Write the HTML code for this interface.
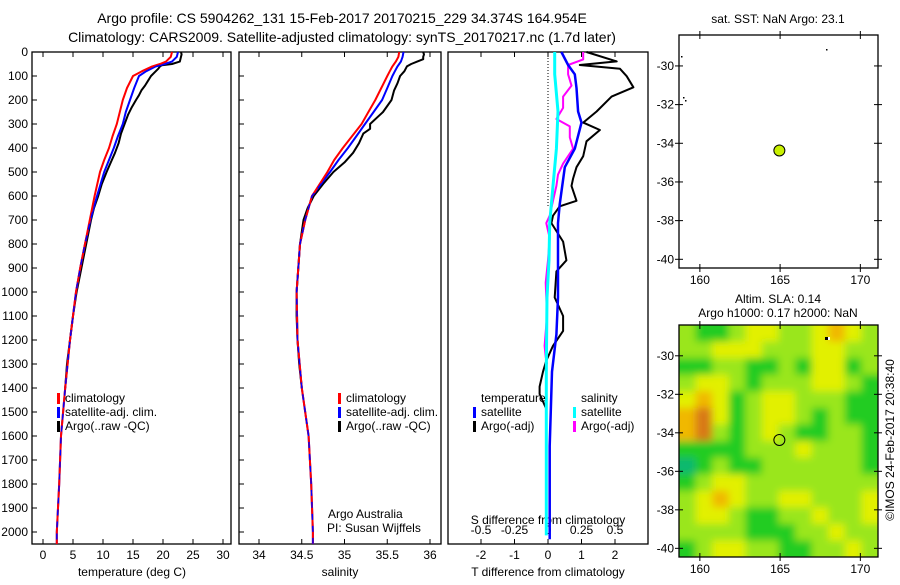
<!DOCTYPE html>
<html><head><meta charset="utf-8"><style>
body{margin:0;background:#fff;}
svg{font-family:"Liberation Sans",sans-serif;}
</style></head><body>
<svg id="fig" width="900" height="580" viewBox="0 0 900 580" xmlns="http://www.w3.org/2000/svg">
<rect width="900" height="580" fill="#fff"/>
<text x="342" y="23" font-size="14" text-anchor="middle">Argo profile: CS 5904262_131 15-Feb-2017 20170215_229 34.374S 164.954E</text>
<text x="342" y="42" font-size="14" text-anchor="middle">Climatology: CARS2009. Satellite-adjusted climatology: synTS_20170217.nc (1.7d later)</text>
<g id="g"></g>
</svg>
<script>
// ---- data ----
const depthTicks=[0,100,200,300,400,500,600,700,800,900,1000,1100,1200,1300,1400,1500,1600,1700,1800,1900,2000];
const tTicks=[0,5,10,15,20,25,30];
const sTicks=[34,34.5,35,35.5,36];
const dTTicks=[-2,-1,0,1,2];
const dSTicks=[-0.5,-0.25,0,0.25,0.5];
const dSTickLabels=['-0.5','-0.25','0','0.25','0.5'];
const latTicks=[-30,-32,-34,-36,-38,-40];
const lonTicks=[160,165,170];

const climDepth=[0,20,40,50,60,80,100,150,200,250,300,350,400,450,500,600,700,800,900,1000,1200,1400,1600,1800,2000,2050];
const tClim=[21.5,21.3,20.5,19.5,18.2,16.5,15.0,14.0,13.3,12.8,12.3,11.6,11.0,10.2,9.5,8.6,7.8,7.0,6.2,5.5,4.5,3.7,3.0,2.7,2.3,2.3];
const tSat=[22.5,22.3,21.5,20.3,18.8,17.2,16.0,15.2,14.5,13.8,13.3,12.5,11.8,11.0,10.2,9.0,7.9,7.0,6.2,5.5,4.5,3.7,3.0,2.7,2.3,2.3];
const sClim=[35.64,35.63,35.6,35.58,35.56,35.53,35.5,35.43,35.36,35.28,35.2,35.09,34.98,34.88,34.8,34.62,34.54,34.48,34.46,34.44,34.45,34.5,34.58,34.61,34.63,34.63];
const sSat=[35.69,35.68,35.66,35.64,35.62,35.59,35.56,35.5,35.44,35.34,35.24,35.14,35.04,34.93,34.83,34.62,34.54,34.48,34.46,34.44,34.45,34.5,34.58,34.61,34.63,34.63];

const argoTDepth=[0,10,20,30,40,50,55,60,70,80,100,120,140,160,180,200,230,260,300,340,380,420,460,500,550,600,650,700,800,900,1000,1100,1200,1300,1400];
const argoT=[23.0,23.1,23.0,22.9,22.8,21.5,19.8,19.5,19.2,18.8,18.0,17.5,17.0,16.4,16.0,15.5,14.8,14.2,13.6,13.0,12.6,12.0,11.3,10.6,9.8,9.2,8.5,8.0,7.2,6.4,5.6,5.0,4.5,4.0,3.7];
const argoSDepth=[0,10,20,30,40,50,60,80,100,130,160,200,250,300,320,340,380,420,460,500,550,600,650,700,800,900,1000,1100,1200,1300,1400];
const argoS=[35.92,35.93,35.92,35.92,35.85,35.78,35.73,35.7,35.65,35.62,35.58,35.55,35.45,35.3,35.3,35.22,35.17,35.1,35.0,34.87,34.75,34.64,34.57,34.52,34.48,34.46,34.44,34.44,34.45,34.47,34.5];

const satDTDepth=[0,54,93,150,248,294,403,480,635,713,1023,1177,1332,1642,2030];
const satDT=[0.4,0.6,0.8,0.85,0.9,1.0,0.8,0.5,0.35,0.3,0.3,0.25,0.12,0.05,0.05];
const argoDTDepth=[0,39,54,70,101,147,186,248,294,325,372,434,480,527,558,620,643,682,713,790,868,914,1023,1100,1162,1224,1286,1332,1394,1425,1487];
const argoDT=[1.15,2.05,0.95,2.15,2.35,2.55,1.9,1.45,1.05,1.55,1.15,1.05,0.85,0.75,0.7,0.85,0.35,0.15,0.1,0.45,0.55,0.25,0.2,0.45,0.45,0.15,-0.05,-0.15,-0.25,-0.25,-0.05];
const satDSDepth=[0,93,248,403,558,713,868,1023,1332,1642,2014];
const satDS=[0.05,0.05,0.075,0.0625,0.0375,0.0125,0.0075,-0.0075,-0.0125,-0.0125,-0.0125];
const argoDSDepth=[0,31,54,93,140,186,233,279,310,356,403,465,511,558,620,682,713,775,868,961,1100,1224,1270,1301];
const argoDS=[0.2625,0.2625,0.15,0.15,0.175,0.1125,0.1125,0.0625,0.1625,0.1625,0.1875,0.1125,0.075,0.0625,0.0375,0.0125,-0.0125,0.0125,0,-0.0175,-0.0075,-0.025,-0.0175,-0.0075];

const slaGrid=[
[2,1,1,2,3,3,2,2,3,4,3,2],
[2,2,3,3,3,2,2,2,3,3,2,2],
[1,1,2,2,1,1,2,1,3,3,1,2],
[2,3,3,2,1,2,2,2,3,3,2,1],
[3,4,3,1,2,3,3,2,2,2,1,1],
[4,5,3,1,2,3,3,2,1,2,1,1],
[4,5,2,1,2,3,2,1,1,2,2,1],
[1,1,1,1,2,2,2,3,2,2,2,1],
[0,1,2,1,1,2,2,2,2,2,2,1],
[1,2,3,3,2,2,2,2,2,2,2,2],
[2,3,4,3,2,2,3,3,2,2,2,3],
[2,3,3,2,1,1,2,2,3,2,2,3],
[2,2,2,2,1,1,1,2,2,3,2,2],
[1,2,3,3,2,2,1,1,2,2,3,2]];
const argoLon=164.954, argoLat=-34.374;

// ---- helpers ----
const NS='http://www.w3.org/2000/svg';
const G=document.getElementById('g');
function el(tag,attrs,parent){const e=document.createElementNS(NS,tag);for(const k in attrs)e.setAttribute(k,attrs[k]);(parent||G).appendChild(e);return e;}
function txt(x,y,s,attrs,parent){const e=el('text',Object.assign({x:x,y:y,'font-size':12},attrs||{}),parent);e.textContent=s;return e;}
const TOP=52,BOT=544;
const yD=d=>TOP+d*0.24;
const xT=v=>43+v*6;
const xS=v=>259+(v-34)*85.5;
const xDT=v=>548+v*33.5;
const xDS=v=>548+v*134;
function line(depths,vals,xf,color,w,name,dash){
  const pts=depths.map((d,i)=>xf(vals[i]).toFixed(1)+','+yD(d).toFixed(1)).join(' ');
  const p=el('polyline',{points:pts,fill:'none',stroke:color,'stroke-width':w,'stroke-linejoin':'round'});
  if(dash)p.setAttribute('stroke-dasharray',dash);
  
  
  return p;
}
function box(x0,x1,name){
  const r=el('rect',{x:x0,y:TOP,width:x1-x0,height:BOT-TOP,fill:'none',stroke:'#000','stroke-width':1.3});
  
  
}
function depthTickMarks(x0,x1,labels){
  depthTicks.forEach(d=>{
    el('line',{x1:x0,x2:x0+5,y1:yD(d),y2:yD(d),stroke:'#000'});
    if(labels){const t=txt(x0-4,yD(d)+4,String(d),{'text-anchor':'end'});
      
      }
  });
}
function xTicks(vals,xf,labs,x0,x1){
  vals.forEach((v,i)=>{
    const x=xf(v);
    el('line',{x1:x,x2:x,y1:BOT,y2:BOT-5,stroke:'#000'});
    el('line',{x1:x,x2:x,y1:TOP,y2:TOP+5,stroke:'#000'});
    const t=txt(x,BOT+15,labs?labs[i]:String(v),{'text-anchor':'middle'});
    
    
  });
}
function legend(x,y,items,name){
  const g=el('g',{});
  
  
  items.forEach((it,i)=>{
    const yy=y+i*14;
    if(it[1]) el('rect',{x:x,y:yy-9,width:3,height:11,fill:it[1]},g);
    txt(x+8,yy,it[0],{},g);
  });
}

// ---- panel 1: temperature ----
box(32,231,'temperature-panel');
depthTickMarks(32,231,true);
xTicks(tTicks,xT,null);
line(argoTDepth,argoT,xT,'#000',2,'argo-temperature-line');
line(climDepth,tSat,xT,'#0000ff',2,'satellite-temperature-line');
line(climDepth,tClim,xT,'#ff0000',2,'climatology-temperature-line');
line(climDepth,tSat,xT,'#0000ff',1.4,'satellite-temperature-line-overlay','6,6');
legend(57,402,[['climatology','#ff0000'],['satellite-adj. clim.','#0000ff'],['Argo(..raw -QC)','#000']],'temperature-legend');
txt(132,576,'temperature (deg C)',{'text-anchor':'middle'});

// ---- panel 2: salinity ----
box(239,441,'salinity-panel');
depthTickMarks(239,441,false);
xTicks(sTicks,xS,null);
line(argoSDepth,argoS,xS,'#000',2,'argo-salinity-line');
line(climDepth,sSat,xS,'#0000ff',2,'satellite-salinity-line');
line(climDepth,sClim,xS,'#ff0000',2,'climatology-salinity-line');
line(climDepth,sSat,xS,'#0000ff',1.4,'satellite-salinity-line-overlay','6,6');
legend(338,402,[['climatology','#ff0000'],['satellite-adj. clim.','#0000ff'],['Argo(..raw -QC)','#000']],'salinity-legend');
txt(328,518,'Argo Australia',{});
txt(327,532,'PI: Susan Wijffels',{});
txt(340,576,'salinity',{'text-anchor':'middle'});

// ---- panel 3: differences ----
box(448,648,'difference-panel');
el('line',{x1:xDT(0),x2:xDT(0),y1:TOP,y2:yD(650),stroke:'#000','stroke-dasharray':'1,2'});
dTTicks.forEach(v=>{const x=xDT(v);el('line',{x1:x,x2:x,y1:BOT,y2:BOT-5,stroke:'#000'});el('line',{x1:x,x2:x,y1:TOP,y2:TOP+5,stroke:'#000'});
  const t=txt(x,BOT+15,String(v),{'text-anchor':'middle'});});
dSTicks.forEach((v,i)=>{const t=txt(xDS(v),534,dSTickLabels[i],{'text-anchor':'middle'});});
txt(548,524,'S difference from climatology',{'text-anchor':'middle'});
txt(548,576,'T difference from climatology',{'text-anchor':'middle'});
line(argoDTDepth,argoDT,xDT,'#000',2,'argo-t-diff-line');
line(argoDSDepth,argoDS,xDS,'#ff00ff',2,'argo-s-diff-line');
line(satDTDepth,satDT,xDT,'#0000ff',2.5,'satellite-t-diff-line');
line(satDSDepth,satDS,xDS,'#00ffff',3,'satellite-s-diff-line');
legend(473,402,[['temperature',null],['satellite','#0000ff'],['Argo(-adj)','#000']],'t-diff-legend');
legend(573,402,[['salinity',null],['satellite','#00ffff'],['Argo(-adj)','#ff00ff']],'s-diff-legend');

// ---- maps ----
const MX0=679,MX1=878,LON0=158.7,LON1=171.1,LAT0=-28.4,LAT1=-40.45;
const xLon=v=>MX0+(v-LON0)/(LON1-LON0)*(MX1-MX0);
function mapFrame(top,bot,name){
  const yLat=v=>top+(v-LAT0)/(LAT1-LAT0)*(bot-top);
  const r=el('rect',{x:MX0,y:top,width:MX1-MX0,height:bot-top,fill:'none',stroke:'#000','stroke-width':1.3});
  
  
  latTicks.forEach(v=>{const y=yLat(v);el('line',{x1:MX0-4,x2:MX0+4,y1:y,y2:y,stroke:'#000'});el('line',{x1:MX1-4,x2:MX1+4,y1:y,y2:y,stroke:'#000'});
    const t=txt(MX0-5,y+4,String(v),{'text-anchor':'end'});});
  lonTicks.forEach(v=>{const x=xLon(v);el('line',{x1:x,x2:x,y1:top-4,y2:top+4,stroke:'#000'});el('line',{x1:x,x2:x,y1:bot-4,y2:bot+4,stroke:'#000'});
    const t=txt(x,bot+16,String(v),{'text-anchor':'middle'});});
  return yLat;
}
// SST map
const yLat1=mapFrame(35,268,'sst-map');
txt(778,23,'sat. SST: NaN Argo: 23.1',{'text-anchor':'middle'});
[[681,56],[683,97],[685,100],[826,49]].forEach(p=>el('rect',{x:p[0],y:p[1],width:1.5,height:1.5,fill:'#000'}));
const dot=el('circle',{cx:xLon(argoLon),cy:yLat1(argoLat),r:5.5,fill:'#c8f000',stroke:'#000','stroke-width':1});


// SLA map
const MT=325,MB=557;
const defs=el('defs',{});
const cp=el('clipPath',{id:'mclip'},defs);el('rect',{x:MX0,y:MT,width:MX1-MX0,height:MB-MT},cp);
const f=el('filter',{id:'blur',x:'-10%',y:'-10%',width:'120%',height:'120%'},defs);el('feGaussianBlur',{stdDeviation:4},f);
const cmap=['#10b870','#20cc20','#9ae61a','#e2f000','#f0b800','#d87818'];
const hg=el('g',{'clip-path':'url(#mclip)'});


const hb=el('g',{filter:'url(#blur)'},hg);
const nr=slaGrid.length,nc=slaGrid[0].length,cw=(MX1-MX0)/nc,ch=(MB-MT)/nr;
slaGrid.forEach((row,r)=>row.forEach((v,c)=>{
  let x=MX0+c*cw,y=MT+r*ch,w=cw+0.5,h=ch+0.5;
  if(c===0){x-=20;w+=20;} if(c===nc-1){w+=20;}
  if(r===0){y-=20;h+=20;} if(r===nr-1){h+=20;}
  const cell=el('rect',{x:x,y:y,width:w,height:h,fill:cmap[v]},hb);
  
  
}));
const yLat2=mapFrame(MT,MB,'sla-map');
txt(778,303,'Altim. SLA: 0.14',{'text-anchor':'middle'});
txt(778,317,'Argo h1000: 0.17 h2000: NaN',{'text-anchor':'middle'});
el('rect',{x:825,y:337,width:3,height:3,fill:'#000'});
el('rect',{x:828,y:337,width:2,height:3,fill:'#fff'});
const ring=el('circle',{cx:xLon(argoLon),cy:yLat2(argoLat),r:5.5,fill:'none',stroke:'#000','stroke-width':1});


const cr=txt(0,0,'©IMOS 24-Feb-2017 20:38:40',{'text-anchor':'middle',transform:'translate(894,440) rotate(-90)'});


</script>
</body></html>
